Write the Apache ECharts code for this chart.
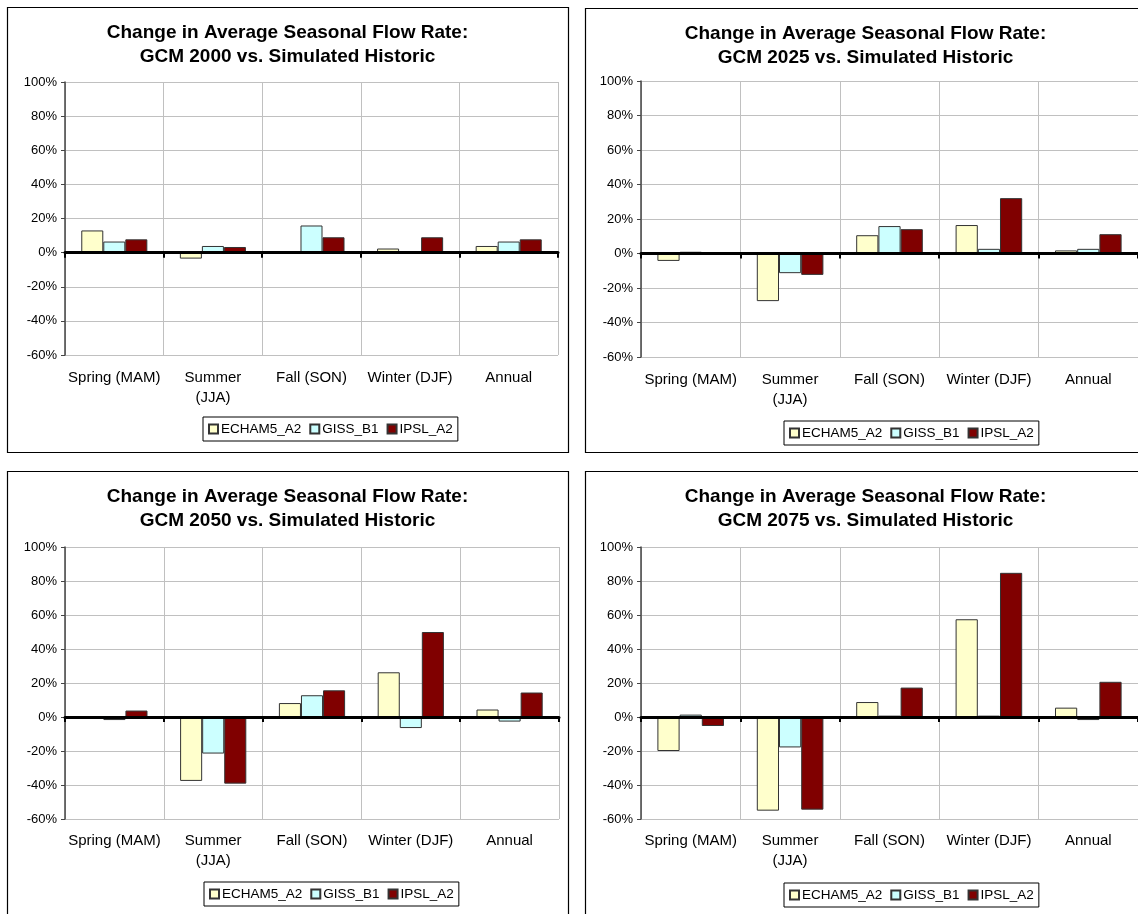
<!DOCTYPE html>
<html>
<head>
<meta charset="utf-8">
<script src="https://cdn.jsdelivr.net/npm/echarts@6/dist/echarts.min.js"></script>
<style>
  html, body { margin: 0; padding: 0; background: #ffffff; overflow: hidden; }
  #chart { width: 1138px; height: 914px; }
</style>
</head>
<body>
<div id="chart"></div>
<script>
// Seasons on the category axis and the three climate models
const seasons = ['Spring (MAM)', 'Summer\n(JJA)', 'Fall (SON)', 'Winter (DJF)', 'Annual'];
const models = ['ECHAM5_A2', 'GISS_B1', 'IPSL_A2'];
const periods = ['2000', '2025', '2050', '2075'];
const yTicks = [-60, -40, -20, 0, 20, 40, 60, 80, 100];

// Percent change in average flow vs. simulated historic, by season
const echam2000 = [13, -3.5, 0, 2.4, 3.9];
const giss2000  = [6.5, 3.9, 15.9, 0.8, 6.5];
const ipsl2000  = [7.8, 3.3, 9.0, 9.0, 7.8];

const echam2025 = [-4.3, -27.6, 10.6, 16.5, 1.8];
const giss2025  = [1.0, -11.4, 15.9, 2.7, 2.7];
const ipsl2025  = [0, -12.4, 14.1, 32.1, 11.2];

const echam2050 = [0, -37.6, 8.2, 26.3, 4.4];
const giss2050  = [-1.8, -21.5, 12.8, -6.5, -2.7];
const ipsl2050  = [3.8, -39.2, 15.7, 50.0, 14.4];

const echam2075 = [-20.0, -55.1, 8.8, 57.5, 5.5];
const giss2075  = [1.4, -17.9, 0.8, 0.8, -1.8];
const ipsl2075  = [-5.3, -54.5, 17.3, 84.8, 20.7];

const seriesByPeriod = [
  [echam2000, giss2000, ipsl2000],
  [echam2025, giss2025, ipsl2025],
  [echam2050, giss2050, ipsl2050],
  [echam2075, giss2075, ipsl2075]
];

const modelColors = ['#FFFFCC', '#CCFFFF', '#800000'];
const FONT = '"Liberation Sans", Arial, Helvetica, sans-serif';

// Panel geometry: outer frame, plot area, title anchor, legend anchor
const layout = [
  { box: [7, 7, 561, 445],   grid: [65, 82, 493, 273],  title: [287.5, 21], legend: [203, 417], labelMargin: 13 },
  { box: [585, 8, 561, 444], grid: [641, 81, 497, 276], title: [865.5, 22], legend: [784, 421], labelMargin: 13 },
  { box: [7, 471, 561, 470], grid: [65, 547, 494, 272], title: [287.5, 485], legend: [204, 882], labelMargin: 12 },
  { box: [585, 471, 561, 470], grid: [641, 547, 497, 272], title: [865.5, 485], legend: [784, 883], labelMargin: 12 }
];

const grids = [], xAxes = [], yAxes = [], series = [], legends = [], graphics = [];

layout.forEach((L, i) => {
  grids.push({ left: L.grid[0], top: L.grid[1], width: L.grid[2], height: L.grid[3], containLabel: false });

  // Thick zero line with boundary ticks
  xAxes.push({
    type: 'category', gridIndex: i, data: seasons, z: 5,
    axisLine: { onZero: true, lineStyle: { color: '#000', width: 3 } },
    axisTick: { show: true, interval: 0, length: 5, lineStyle: { color: '#000', width: 2 } },
    axisLabel: { show: false },
    splitLine: { show: false }
  });
  // Category labels along the bottom plus vertical grid lines
  xAxes.push({
    type: 'category', gridIndex: i, data: seasons, position: 'bottom',
    axisLine: { show: false, onZero: false },
    axisTick: { show: false },
    axisLabel: {
      show: true, interval: 0, margin: L.labelMargin, color: '#000',
      fontFamily: FONT, fontSize: 15, lineHeight: 20
    },
    splitLine: { show: true, interval: 0, lineStyle: { color: '#c0c0c0', width: 1 } }
  });

  yAxes.push({
    type: 'value', gridIndex: i,
    min: yTicks[0], max: yTicks[yTicks.length - 1], interval: 20,
    axisLine: { show: true, lineStyle: { color: '#444', width: 1.5 } },
    axisTick: { show: true, length: 4, lineStyle: { color: '#444', width: 1 } },
    axisLabel: { formatter: '{value}%', color: '#000', fontFamily: FONT, fontSize: 13, margin: 8 },
    splitLine: { show: true, lineStyle: { color: '#c0c0c0', width: 1 } }
  });

  seriesByPeriod[i].forEach((vals, m) => {
    series.push({
      type: 'bar', name: models[m],
      xAxisIndex: i * 2, yAxisIndex: i,
      data: vals,
      barGap: '0%', barCategoryGap: '33%',
      itemStyle: { color: modelColors[m], borderColor: '#333', borderWidth: 1 },
      emphasis: { disabled: true },
      animation: false
    });
  });

  legends.push({
    left: L.legend[0], top: L.legend[1],
    data: models, orient: 'horizontal',
    icon: 'rect', itemWidth: 9, itemHeight: 9, itemGap: 8,
    padding: [5, 5, 5, 5],
    borderColor: '#000', borderWidth: 1, backgroundColor: '#fff',
    textStyle: { color: '#000', fontFamily: FONT, fontSize: 13.5, padding: [0, 0, 0, -2] },
    selectedMode: false
  });

  graphics.push({
    type: 'rect', silent: true, z: -10,
    shape: { x: L.box[0] + 0.5, y: L.box[1] + 0.5, width: L.box[2], height: L.box[3] },
    style: { fill: 'none', stroke: '#000', lineWidth: 1.2 }
  });
  graphics.push({
    type: 'text', silent: true,
    x: L.title[0], y: L.title[1],
    style: {
      text: 'Change in Average Seasonal Flow Rate:\nGCM ' + periods[i] + ' vs. Simulated Historic',
      align: 'center', verticalAlign: 'top',
      fontFamily: FONT, fontWeight: 'bold', fontSize: 19, lineHeight: 24, fill: '#000'
    }
  });
});

const chart = echarts.init(document.getElementById('chart'), null, { renderer: 'canvas' });
chart.setOption({
  animation: false,
  backgroundColor: '#fff',
  grid: grids,
  xAxis: xAxes,
  yAxis: yAxes,
  legend: legends,
  series: series,
  graphic: graphics
});
</script>
</body>
</html>
